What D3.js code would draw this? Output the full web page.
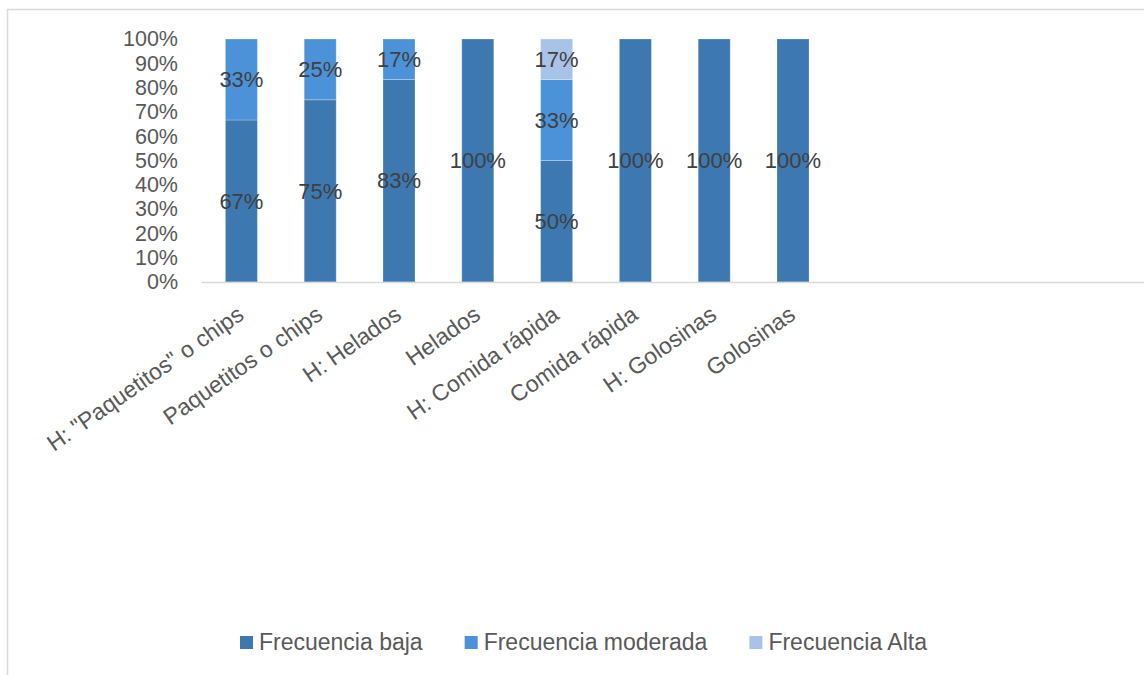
<!DOCTYPE html>
<html>
<head>
<meta charset="utf-8">
<script src="https://cdn.jsdelivr.net/npm/d3@7"></script>
<style>
  html, body { margin: 0; padding: 0; background: #fff; }
  svg { display: block; }
  text { font-family: "Liberation Sans", Arial, sans-serif; }
</style>
</head>
<body>
<svg id="chart" width="1144" height="675"></svg>
<script>
const categories = ['H: "Paquetitos" o chips', 'Paquetitos o chips', 'H: Helados', 'Helados',
                    'H: Comida rápida', 'Comida rápida', 'H: Golosinas', 'Golosinas'];
const seriesNames = ['Frecuencia baja', 'Frecuencia moderada', 'Frecuencia Alta'];
const baja      = [4/6, 0.75, 5/6, 1, 0.5, 1, 1, 1];
const moderada  = [2/6, 0.25, 1/6, 0, 2/6, 0, 0, 0];
const alta      = [0,   0,    0,   0, 1/6, 0, 0, 0];
const yTicks = [0, 0.1, 0.2, 0.3, 0.4, 0.5, 0.6, 0.7, 0.8, 0.9, 1.0];
const colors = ['#3d78b1', '#4b92d8', '#a9c3e8'];

const svg = d3.select('#chart');
const W = 1144, H = 675;

// outer frame (partially visible)
svg.append('rect').attr('x', 7.5).attr('y', 9.5).attr('width', 1300).attr('height', 800)
  .attr('fill', 'none').attr('stroke', '#d9d9d9').attr('stroke-width', 1.5);

const plot = { left: 202, top: 39, bottom: 282, right: 202 + 8 * 78.8 };

const rows = categories.map((c, i) => ({ cat: c, baja: baja[i], moderada: moderada[i], alta: alta[i] }));
const keys = ['baja', 'moderada', 'alta'];
const stacked = d3.stack().keys(keys)(rows);

const x = d3.scaleBand().domain(categories).range([plot.left, plot.right])
  .paddingInner(0.594).paddingOuter(0.297);
const y = d3.scaleLinear().domain([0, 1]).range([plot.bottom, plot.top]);

// bars
const g = svg.append('g');
stacked.forEach((layer, li) => {
  g.selectAll(null).data(layer.filter(d => d[1] - d[0] > 0)).enter().append('rect')
    .attr('x', d => x(d.data.cat))
    .attr('width', x.bandwidth())
    .attr('y', d => y(d[1]))
    .attr('height', d => y(d[0]) - y(d[1]))
    .attr('fill', colors[li])
    .attr('stroke', 'rgba(255,255,255,0.25)')
    .attr('stroke-width', 1);
});

// axis line
svg.append('line').attr('x1', plot.left).attr('x2', W + 10)
  .attr('y1', plot.bottom + 0.5).attr('y2', plot.bottom + 0.5)
  .attr('stroke', '#d9d9d9').attr('stroke-width', 1.5);

// y axis labels
const yAxis = d3.axisLeft(y).tickValues(yTicks).tickFormat(d3.format('.0%')).tickSize(0).tickPadding(0);
const yg = svg.append('g').attr('transform', `translate(178,0)`).call(yAxis);
yg.select('.domain').remove();
yg.selectAll('text').attr('fill', '#595959').style('font-size', '21.5px')
  .style('font-family', '"Liberation Sans", Arial, sans-serif');

// x axis labels
const xAxis = d3.axisBottom(x).tickSize(0).tickPadding(0);
const xg = svg.append('g').attr('transform', `translate(0,${plot.bottom})`).call(xAxis);
xg.select('.domain').remove();
xg.selectAll('text')
  .attr('fill', '#595959').style('font-size', '23px')
  .style('font-family', '"Liberation Sans", Arial, sans-serif')
  .attr('text-anchor', 'end')
  .attr('y', 0).attr('dy', 0)
  .attr('transform', 'translate(4,36) rotate(-35)');

// data labels
stacked.forEach((layer, li) => {
  g.selectAll(null).data(layer.filter(d => d[1] - d[0] > 0)).enter().append('text')
    .attr('x', d => x(d.data.cat) + x.bandwidth() / 2)
    .attr('y', d => y((d[0] + d[1]) / 2))
    .attr('dy', '0.35em')
    .attr('text-anchor', 'middle')
    .attr('fill', '#404040')
    .style('font-size', '22px')
    .text(d => d3.format('.0%')(d[1] - d[0]));
});

// legend
const leg = svg.append('g');
let lx = 240;
seriesNames.forEach((name, i) => {
  leg.append('rect').attr('x', lx).attr('y', 636).attr('width', 13).attr('height', 13).attr('fill', colors[i]);
  const t = leg.append('text').attr('x', lx + 19).attr('y', 650)
    .attr('fill', '#595959').style('font-size', '23px').text(name);
  lx += 19 + t.node().getComputedTextLength() + 42;
});
</script>
</body>
</html>
